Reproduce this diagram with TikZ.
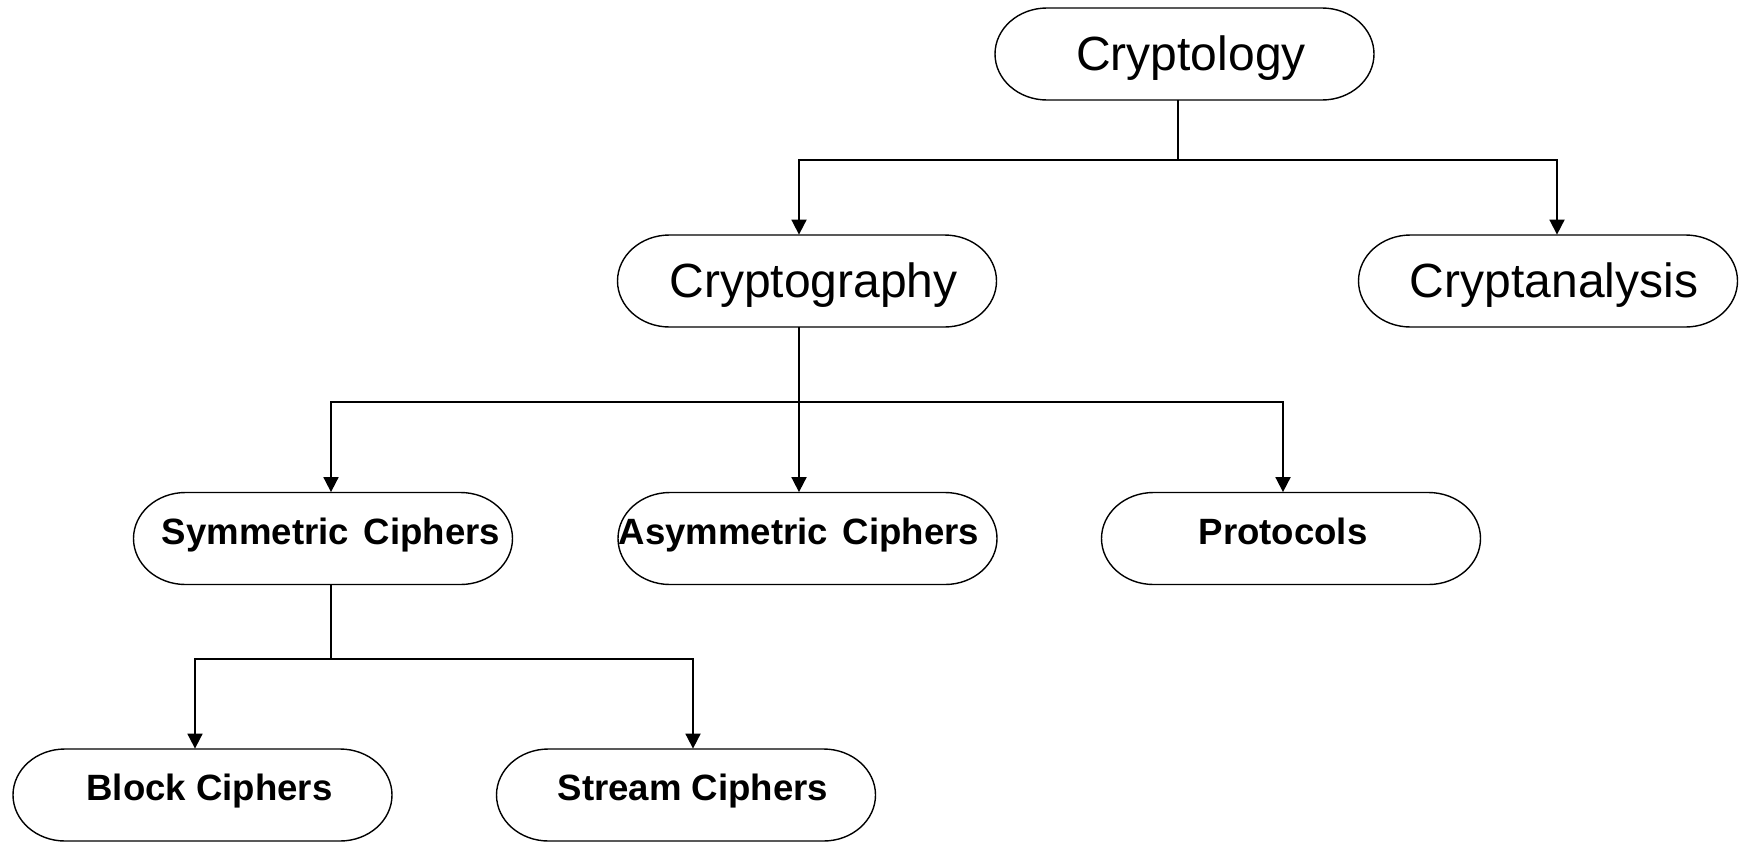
\documentclass[tikz,border=0pt]{standalone}
\usepackage{fontspec}
\setmainfont{Liberation Sans}
\usetikzlibrary{arrows.meta,calc}
\tikzset{
  term/.style={minimum width=189.5pt, minimum height=46pt, inner sep=0pt},
  bigtxt/.style={term, font=\fontsize{24pt}{28pt}\selectfont, text height=17pt, text depth=1pt},
  smalltxt/.style={term, font=\fontsize{18.3pt}{22pt}\selectfont\bfseries, text height=13pt, text depth=7.5pt},
  boxline/.style={draw=black, line width=0.7pt},
  conn/.style={draw=black, line width=0.9pt},
  arr/.style={conn, -{Triangle[length=7.5pt,width=7.5pt]}},
}
\begin{document}
\begin{tikzpicture}[x=0.5pt,y=0.5pt]
\useasboundingbox (0,0) rectangle (1739,-841);
% nodes (centre x at connector, y at box centre)
\node[bigtxt] (cryptology) at (1178,-54) {\hspace*{13pt}Cryptology};
\node[bigtxt] (cryptography) at (799,-281) {\hspace*{14.5pt}Cryptography};
\node[bigtxt] (cryptanalysis) at (1557,-281) {Cryptanalysis\hspace*{3pt}};
\node[smalltxt] (symmetric) at (331,-538.5) {Symmetric\hspace{0.4em}Ciphers};
\node[smalltxt] (asymmetric) at (799,-538.5) {Asymmetric\hspace{0.4em}Ciphers};
\node[smalltxt] (protocols) at (1283,-538.5) {Protocols};
\node[smalltxt] (block) at (195,-795) {\hspace*{14.5pt}Block Ciphers};
\node[smalltxt] (stream) at (693,-795) {Stream Ciphers};
% outlines (terminator shapes)
\foreach \n/\dx in {cryptology/6.5, cryptography/8, cryptanalysis/-9, symmetric/-8, asymmetric/8.5, protocols/8, block/7.5, stream/-7}
  \draw[boxline, shift={($(\n.center)+(\dx,0)$)}]
    (-137.5,46) -- (137.5,46)
    arc[start angle=90, end angle=-90, x radius=26pt, y radius=23pt]
    -- (-137.5,-46)
    arc[start angle=270, end angle=90, x radius=26pt, y radius=23pt]
    -- cycle;
% junctions
\coordinate (j1) at (1178,-160);
\coordinate (j2) at (799,-402);
\coordinate (j3) at (331,-659);
% connectors
\draw[conn, line width=1.4pt] (cryptology.south) -- (j1);
\draw[arr] (j1) -| (cryptography.north);
\draw[arr] (j1) -| (cryptanalysis.north);
\draw[arr] (cryptography.south) -- (asymmetric.north);
\draw[arr] (j2) -| (symmetric.north);
\draw[arr] (j2) -| (protocols.north);
\draw[conn] (symmetric.south) -- (j3);
\draw[arr] (j3) -| (block.north);
\draw[arr] (j3) -| (stream.north);
\end{tikzpicture}
\end{document}
